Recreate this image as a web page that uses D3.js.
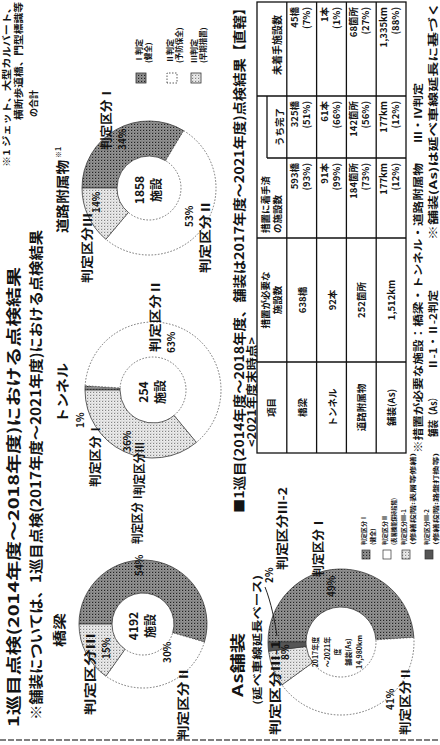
<!DOCTYPE html>
<html>
<head>
<meta charset="utf-8">
<script src="https://cdnjs.cloudflare.com/ajax/libs/d3/7.8.5/d3.min.js"></script>
<style>
html,body{margin:0;padding:0;background:#fff;}
svg{display:block;}
text{font-family:"Noto Sans CJK JP","Noto Sans",sans-serif;fill:#141414;font-weight:700;}
</style>
</head>
<body>
<svg id="chart" width="440" height="745"></svg>
<script>
// values
var grades = ["判定区分Ⅰ","判定区分Ⅱ","判定区分Ⅲ"];
var bridgeShare = [54,30,15];
var tunnelShare = [1,63,36];
var roadShare = [34,53,14];
var facilityNames = ["橋梁","トンネル","道路附属物"];
var facilityTotals = [4192,254,1858];

var asGrades = ["判定区分Ⅰ","判定区分Ⅱ","判定区分Ⅲ-1","判定区分Ⅲ-2"];
var asShare = [49,41,8,2];
var asCenterLines = ["2017年度","～2021年","度","舗装(As)","14,980km"];
var asLegendNotes = ["(健全)","(表層機能保持段階)","(修繕段階:表層等修繕)","(修繕段階:路盤打換等)"];

var legendGrades = ["Ⅰ判定","Ⅱ判定","Ⅲ判定"];
var legendNotes = ["(健全)","(予防保全)","(早期措置)"];

var tableItems = ["橋梁","トンネル","道路附属物","舗装(As)"];
var units = ["橋","本","箇所","km"];
var needCount = [638,92,252,1512];
var startedCount = [593,91,184,177];
var startedPct = [93,99,73,12];
var doneCount = [325,61,142,177];
var donePct = [51,66,56,12];
var notStartedCount = [45,1,68,1335];
var notStartedPct = [7,1,27,88];

var svg = d3.select("#chart");
var fmt = d3.format(",");

var defs = svg.append("defs");
function dots(id, base, dot){
  var p = defs.append("pattern").attr("id",id).attr("width",3).attr("height",3).attr("patternUnits","userSpaceOnUse");
  p.append("rect").attr("width",3).attr("height",3).attr("fill",base);
  p.append("rect").attr("width",1.2).attr("height",1.2).attr("fill",dot);
  p.append("rect").attr("x",1.5).attr("y",1.5).attr("width",0.9).attr("height",0.9).attr("fill",dot).attr("opacity",0.6);
}
dots("dotDark","#969696","#222");
dots("dotLight","#eeeeee","#858585");
var gradeFill = ["url(#dotDark)","#ffffff","url(#dotLight)"];
var asFill = ["url(#dotDark)","#ffffff","url(#dotLight)","#555555"];

// the sheet was scanned sideways: lay it out as a landscape page, then turn it
var page = svg.append("g").attr("transform","translate(0,745) rotate(-90)");

function txt(parent, s, x, y, size, o){
  o = o || {};
  var t = parent.append("text").attr("x",x).attr("y",y).style("font-size",size+"px").text(s);
  if(o.anchor) t.attr("text-anchor",o.anchor);
  if(o.len){ t.attr("textLength",o.len).attr("lengthAdjust","spacingAndGlyphs"); }
  if(o.weight) t.style("font-weight",o.weight);
  return t;
}

// scan edge
page.append("line").attr("x1",5).attr("x2",5).attr("y1",0).attr("y2",440)
  .attr("stroke","#555").attr("stroke-width",1.4).attr("stroke-dasharray","6,2");

// headings
txt(page,"1巡目点検(2014年度～2018年度)における点検結果",18,18.5,15,{len:460});
txt(page,"※舗装については、1巡目点検(2017年度～2021年度)における点検結果",25,41,14,{len:490});
txt(page,"※1 ジェット、大型カルバート、",578,9.5,9.5,{len:165});
txt(page,"横断歩道橋、門型標識等",625,22,9.5,{len:118});
txt(page,"の合計",628,37,9);

// donut label places, relative to each centre: [dx, dy, length]
var donutLayout = [
  {cx:121, cy:143, r0:31, r1:64, title:[-23,-79,34],
   name:[[80,-1,52],[-116,45,73],[-91,-48,82]], pct:[[48,0],[-39,28],[-35,-33]]},
  {cx:355, cy:153, r0:33, r1:68, title:[-33,-86,60],
   name:[[-97,-53,64],[38,7,72],[-105,-9,53]], pct:[[-38,-69],[37,22],[-62,-22]]},
  {cx:557, cy:149, r0:32, r1:67, title:[-45,-82,73],
   name:[[38,-38,63],[-85,61,73],[-95,-57,70]], pct:[[38,-23],[-39,44],[-25,-49]]}
];
var donutShares = [bridgeShare, tunnelShare, roadShare];

var pie = d3.pie().sort(null).value(function(d){ return d.v; });

function ring(g, rows, r0, r1){
  var arc = d3.arc().innerRadius(r0).outerRadius(r1);
  g.selectAll("path.seg").data(pie(rows)).join("path").attr("class","seg")
    .attr("d",arc)
    .attr("fill",function(d){ return d.data.fill; })
    .attr("stroke",function(d){ return d.data.fill==="#ffffff" ? "#555" : "#3a3a3a"; })
    .attr("stroke-width",0.8)
    .attr("stroke-dasharray",function(d){ return d.data.fill==="#ffffff" ? "1.6,1.6" : null; });
}

donutLayout.forEach(function(L, k){
  var g = page.append("g").attr("transform","translate("+L.cx+","+L.cy+")");
  var rows = donutShares[k].map(function(v,i){ return {v:v, name:grades[i], fill:gradeFill[i]}; });
  ring(g, rows, L.r0, L.r1);
  txt(g, facilityNames[k], L.title[0], L.title[1], 13, {len:L.title[2]});
  if(k===2) txt(g,"※1",L.title[0]+L.title[2]+2,L.title[1]-6,7);
  txt(g, facilityTotals[k], -2, -5, 12, {anchor:"middle"});
  txt(g, "施設", -2, 12, 12, {anchor:"middle"});
  rows.forEach(function(r,i){
    txt(g, r.name, L.name[i][0], L.name[i][1], 12, {len:L.name[i][2]});
    txt(g, r.v+"%", L.pct[i][0], L.pct[i][1], 10);
  });
});

// legend for the three donuts
var lg = page.append("g");
var legendV = [141,172,196];
legendGrades.forEach(function(s,i){
  lg.append("rect").attr("x",662).attr("y",legendV[i]-5).attr("width",10).attr("height",10)
    .attr("fill",gradeFill[i]).attr("stroke","#333").attr("stroke-width",0.8)
    .attr("stroke-dasharray", i===1 ? "1.5,1.5" : null);
  txt(lg, s, 682, legendV[i]+1, 8);
  txt(lg, legendNotes[i], 682, legendV[i]+10, 7.5);
});

// As pavement donut
var AS = {cx:103, cy:341, r0:35, r1:73,
  name:[[65,-18,60],[-93,69,68],[-93,-61,95],[72,-54,83]], pct:[[45,-6],[-68,53],[-18,-52],[59,-68]]};
var ag = page.append("g").attr("transform","translate("+AS.cx+","+AS.cy+")");
var asRows = asShare.map(function(v,i){ return {v:v, name:asGrades[i], fill:asFill[i]}; });
ring(ag, asRows, AS.r0, AS.r1);
asRows.forEach(function(r,i){
  txt(ag, r.name, AS.name[i][0], AS.name[i][1], 12, {len:AS.name[i][2]});
  txt(ag, r.v+"%", AS.pct[i][0], AS.pct[i][1], 10);
});
ag.append("path").attr("d","M55,-76 C40,-70 20,-66 6,-64").attr("fill","none").attr("stroke","#222").attr("stroke-width",1);
asCenterLines.forEach(function(s,i){
  txt(ag, s, -10, [-23,-11,-1,10,21][i], 7, {anchor:"middle"});
});
txt(page,"As舗装",48,243,15,{len:64});
txt(page,"(延べ車線延長ベース)",40,261,10,{len:130});

var asLegV = [366,387,406,429];
asGrades.forEach(function(s,i){
  page.append("rect").attr("x",186).attr("y",asLegV[i]-4).attr("width",9).attr("height",8)
    .attr("fill",asFill[i]).attr("stroke","#333").attr("stroke-width",0.7);
  txt(page, s, 200, asLegV[i], 6);
  txt(page, asLegendNotes[i], 200, asLegV[i]+9, 6, i>=2 ? {len:92} : (i===1 ? {len:47} : {}));
});

// table of measures
txt(page,"■1巡目(2014年度～2018年度、舗装は2017年度～2021年度)点検結果【直轄】",232,244,13,{len:512});
txt(page,"<2021年度末時点>",298,256,11,{len:110});

var colEdge = [292,383,507,587,649,743];
var yRow = d3.scaleBand().domain(["head"].concat(tableItems)).range([257,406]);
var tg = page.append("g").attr("stroke","#111").attr("stroke-width",1.3);
tg.append("rect").attr("x",colEdge[0]).attr("y",yRow.range()[0])
  .attr("width",colEdge[5]-colEdge[0]).attr("height",yRow.range()[1]-yRow.range()[0]).attr("fill","none");
tg.selectAll("line.row").data(tableItems).join("line").attr("class","row")
  .attr("x1",colEdge[0]).attr("x2",colEdge[5])
  .attr("y1",function(d){ return yRow(d); }).attr("y2",function(d){ return yRow(d); });
tg.selectAll("line.col").data([1,2,4]).join("line").attr("class","col")
  .attr("x1",function(i){ return colEdge[i]; }).attr("x2",function(i){ return colEdge[i]; })
  .attr("y1",yRow.range()[0]).attr("y2",yRow.range()[1]);
tg.append("line").attr("x1",colEdge[3]).attr("x2",colEdge[3]).attr("y1",267).attr("y2",yRow.range()[1]);
tg.append("line").attr("x1",colEdge[3]).attr("x2",colEdge[4]).attr("y1",267).attr("y2",267);

var hy = yRow("head");
txt(page,"項目",(colEdge[0]+colEdge[1])/2,hy+18,9.5,{anchor:"middle"});
txt(page,"措置が必要な",(colEdge[1]+colEdge[2])/2,hy+12,9.5,{anchor:"middle"});
txt(page,"施設数",(colEdge[1]+colEdge[2])/2,hy+24,9.5,{anchor:"middle"});
txt(page,"措置に着手済",colEdge[2]+5,hy+12,9.5);
txt(page,"の施設数",colEdge[2]+5,hy+24,9.5);
txt(page,"うち完了",(colEdge[3]+colEdge[4])/2,hy+26,9.5,{anchor:"middle"});
txt(page,"未着手施設数",(colEdge[4]+colEdge[5])/2+4,hy+24,10,{anchor:"middle"});

tableItems.forEach(function(item,i){
  var y0 = yRow(item);
  txt(page,item,(colEdge[0]+colEdge[1])/2,y0+19,9.5,{anchor:"middle"});
  txt(page,fmt(needCount[i])+units[i],(colEdge[1]+colEdge[2])/2,y0+19,9.5,{anchor:"middle"});
  [[startedCount,startedPct,colEdge[3]],[doneCount,donePct,colEdge[4]],[notStartedCount,notStartedPct,colEdge[5]]]
    .forEach(function(c){
      txt(page,fmt(c[0][i])+units[i],c[2]-5,y0+11,9.5,{anchor:"end"});
      txt(page,"("+c[1][i]+"%)",c[2]-5,y0+23,9.5,{anchor:"end"});
    });
});

txt(page,"※措置が必要な施設：橋梁・トンネル・道路附属物",292,422,10,{len:290});
txt(page,"Ⅲ・Ⅳ判定",602,422,10,{len:60});
txt(page,"舗装（As）",308,437,10,{len:44});
txt(page,"Ⅱ-1・Ⅱ-2判定",375,437,10,{len:80});
txt(page,"※舗装(As)は延べ車線延長に基づく",505,437,10,{len:238});
</script>
</body>
</html>
